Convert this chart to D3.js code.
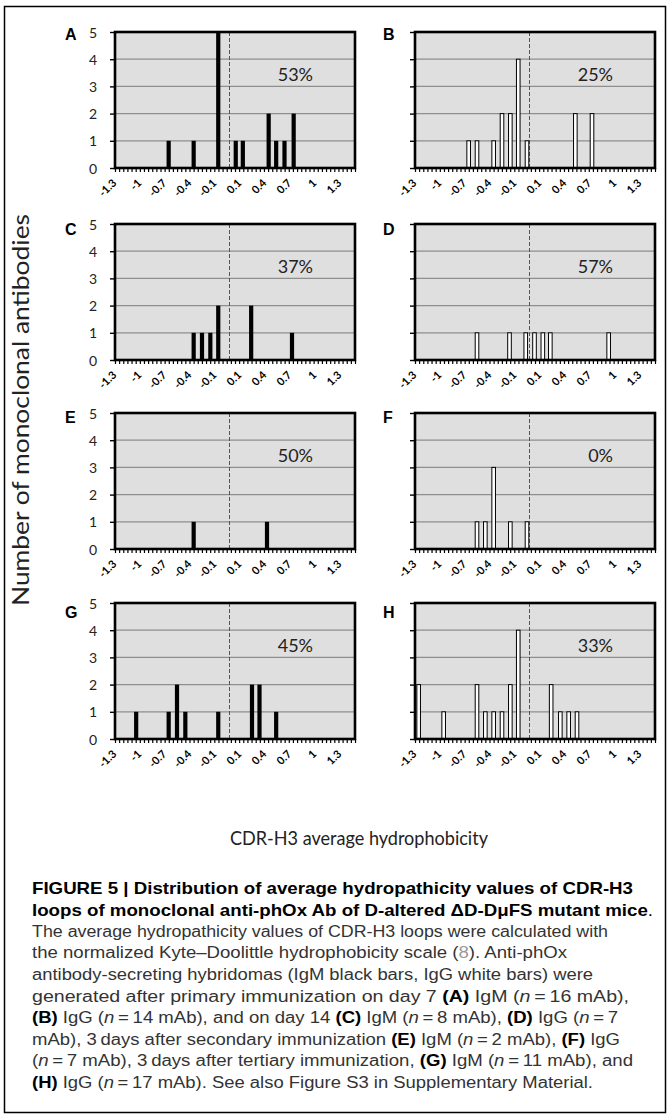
<!doctype html>
<html lang="en">
<head>
  <meta charset="utf-8">
  <script src="https://cdnjs.cloudflare.com/ajax/libs/d3/7.8.5/d3.min.js"></script>
  <style type="text/css">
    body {
      padding: 0;
      margin: 0;
      background: #fff;
    }
    svg text {
      font-family: Lato, 'Open Sans', sans-serif;
    }
  </style>
</head>
<body>
<svg id="canvas" width="671" height="1118"></svg>
<script>

// bars per panel: [hydrophobicity, number of mAb]
var panelA = [[-0.68, 1], [-0.38, 1], [-0.09, 5], [0.05, 1], [0.11, 1], [0.42, 2], [0.51, 1], [0.61, 1], [0.72, 2]];
var panelB = [[-0.68, 1], [-0.58, 1], [-0.38, 1], [-0.28, 2], [-0.18, 2], [-0.09, 4], [-0.02, 1], [0.50, 2], [0.70, 2]];
var panelC = [[-0.38, 1], [-0.28, 1], [-0.18, 1], [-0.09, 2], [0.21, 2], [0.70, 1]];
var panelD = [[-0.58, 1], [-0.19, 1], [-0.03, 1], [0.04, 1], [0.11, 1], [0.20, 1], [0.90, 1]];
var panelE = [[-0.38, 1], [0.40, 1]];
var panelF = [[-0.58, 1], [-0.48, 1], [-0.38, 3], [-0.18, 1], [-0.02, 1]];
var panelG = [[-1.07, 1], [-0.68, 1], [-0.58, 2], [-0.48, 1], [-0.09, 1], [0.22, 2], [0.31, 2], [0.51, 1]];
var panelH = [[-1.28, 2], [-0.98, 1], [-0.58, 2], [-0.48, 1], [-0.38, 1], [-0.28, 1], [-0.18, 2], [-0.09, 4], [0.21, 2], [0.32, 1], [0.42, 1], [0.52, 1]];

var panelLetters = ['A', 'B', 'C', 'D', 'E', 'F', 'G', 'H'];
var panelPercent = ['53%', '25%', '37%', '57%', '50%', '0%', '45%', '33%'];
var panelIsotype = ['IgM', 'IgG', 'IgM', 'IgG', 'IgM', 'IgG', 'IgM', 'IgG'];
var panelBars = [panelA, panelB, panelC, panelD, panelE, panelF, panelG, panelH];

var xTickLabels = [-1.3, -1, -0.7, -0.4, -0.1, 0.1, 0.4, 0.7, 1, 1.3];
var yTicks = [0, 1, 2, 3, 4, 5];
var minorTickCount = 58;

var captionLines = [
  [['b', 'FIGURE 5 | Distribution of average hydropathicity values of CDR-H3']],
  [['b', 'loops of monoclonal anti-phOx Ab of D-altered \u0394D-D\u03bcFS mutant mice'], ['', '.']],
  [['', 'The average hydropathicity values of CDR-H3 loops were calculated with']],
  [['', 'the normalized Kyte\u2013Doolittle hydrophobicity scale ('], ['g', '8'], ['', '). Anti-phOx']],
  [['', 'antibody-secreting hybridomas (IgM black bars, IgG white bars) were']],
  [['', 'generated after primary immunization on day 7 '], ['b', '(A)'], ['', ' IgM ('], ['i', 'n'], ['', '\u2009=\u200916 mAb),']],
  [['b', '(B)'], ['', ' IgG ('], ['i', 'n'], ['', '\u2009=\u200914 mAb), and on day 14 '], ['b', '(C)'], ['', ' IgM ('], ['i', 'n'], ['', '\u2009=\u20098 mAb), '], ['b', '(D)'], ['', ' IgG ('], ['i', 'n'], ['', '\u2009=\u20097']],
  [['', 'mAb), 3\u2009days after secondary immunization '], ['b', '(E)'], ['', ' IgM ('], ['i', 'n'], ['', '\u2009=\u20092 mAb), '], ['b', '(F)'], ['', ' IgG']],
  [['', '('], ['i', 'n'], ['', '\u2009=\u20097 mAb), 3\u2009days after tertiary immunization, '], ['b', '(G)'], ['', ' IgM ('], ['i', 'n'], ['', '\u2009=\u200911 mAb), and']],
  [['b', '(H)'], ['', ' IgG ('], ['i', 'n'], ['', '\u2009=\u200917 mAb). See also Figure S3 in Supplementary Material.']]
];
var captionWidths = [601, 621, 576, 535, 561, 597, 586, 588, 601, 561];
var captionBaselines = [894, 916, 937, 958, 980, 1002, 1023, 1045, 1066, 1088];

var svg = d3.select('#canvas');

var colLeft = [115, 415];
var rowTop = [32, 224, 413, 603];
var letterDy = [8, 11, 10, 15];
var plotW = 240;
var plotH = 136;

// figure frame
svg.append('rect')
  .attr('x', 4.5).attr('y', 6.5)
  .attr('width', 661).attr('height', 1106)
  .attr('fill', 'none')
  .attr('stroke', '#000')
  .attr('stroke-width', 1.5);

panelBars.forEach(function(bars, i) {
  var col = i % 2;
  var row = Math.floor(i / 2);
  var left = colLeft[col];
  var top = rowTop[row];

  var g = svg.append('g').attr('transform', 'translate(' + left + ',' + top + ')');

  // category axis of the original chart: labels evenly spaced
  var x = d3.scaleLinear()
    .domain([-1.3, -0.1, 0.1, 1.3])
    .range([2, 102, 127, 227]);
  var xIdx = d3.scaleLinear().domain([0, minorTickCount]).range([0, plotW]);
  var y = d3.scaleLinear().domain([0, 5]).range([plotH, 0]);

  g.append('rect')
    .attr('width', plotW).attr('height', plotH)
    .attr('fill', '#dfdfdf');

  g.selectAll('.grid').data(yTicks.slice(1, -1)).enter().append('line')
    .attr('x1', 0).attr('x2', plotW)
    .attr('y1', function(d) { return y(d); })
    .attr('y2', function(d) { return y(d); })
    .attr('stroke', '#8e8e8e')
    .attr('stroke-width', 1.2);

  g.append('line')
    .attr('x1', x(0)).attr('x2', x(0))
    .attr('y1', 0).attr('y2', plotH)
    .attr('stroke', '#555')
    .attr('stroke-width', 1)
    .attr('stroke-dasharray', '4,2');

  var igm = panelIsotype[i] === 'IgM';
  var bw = igm ? 4.2 : 3.6;
  g.selectAll('.bar').data(bars).enter().append('rect')
    .attr('x', function(d) { return x(d[0]) - bw / 2; })
    .attr('y', function(d) { return y(d[1]); })
    .attr('width', bw)
    .attr('height', function(d) { return y(0) - y(d[1]); })
    .attr('fill', igm ? '#000' : '#fff')
    .attr('stroke', igm ? 'none' : '#000')
    .attr('stroke-width', 1);

  g.append('rect')
    .attr('width', plotW).attr('height', plotH)
    .attr('fill', 'none')
    .attr('stroke', '#000')
    .attr('stroke-width', 2.6);

  // y axis
  var yAxis = g.append('g')
    .call(d3.axisLeft(y).tickValues(yTicks).tickSize(5)
      .tickFormat(col === 0 ? function(d) { return d; } : function() { return ''; }));
  yAxis.select('.domain').remove();
  yAxis.selectAll('line').attr('stroke', '#000').attr('stroke-width', 1.4);
  yAxis.selectAll('text')
    .attr('x', -18)
    .attr('dy', '0.36em')
    .style('font-size', '14px')
    .style('fill', '#222');

  // minor ticks
  var minor = g.append('g')
    .attr('transform', 'translate(0,' + plotH + ')')
    .call(d3.axisBottom(xIdx).tickValues(d3.range(0, minorTickCount + 1)).tickSize(4).tickFormat(''));
  minor.select('.domain').remove();
  minor.selectAll('line').attr('stroke', '#000').attr('stroke-width', 1.2);

  // rotated category labels
  var xAxis = g.append('g')
    .attr('transform', 'translate(0,' + plotH + ')')
    .call(d3.axisBottom(x).tickValues(xTickLabels).tickSize(0).tickFormat(function(d) { return String(d); }));
  xAxis.select('.domain').remove();
  xAxis.selectAll('text')
    .attr('x', 0).attr('y', 0).attr('dy', '0.35em')
    .attr('text-anchor', 'end')
    .attr('transform', 'translate(-3,13) rotate(-45)')
    .style('font-size', '11px')
    .style('font-weight', 'bold')
    .style('fill', '#000');

  g.append('text')
    .attr('x', 198).attr('y', 49)
    .attr('text-anchor', 'end')
    .style('font-size', '18px')
    .style('fill', '#222')
    .text(panelPercent[i]);

  g.append('text')
    .attr('x', col === 0 ? -50 : -32)
    .attr('y', letterDy[row])
    .style('font-family', "'Liberation Sans', Arial, sans-serif")
    .style('font-size', '16px')
    .style('font-weight', 'bold')
    .text(panelLetters[i]);
});

svg.append('text')
  .attr('transform', 'translate(29,410) rotate(-90)')
  .attr('text-anchor', 'middle')
  .attr('textLength', 392)
  .attr('lengthAdjust', 'spacingAndGlyphs')
  .style('font-size', '24px')
  .style('fill', '#222')
  .text('Number of monoclonal antibodies');

svg.append('text')
  .attr('x', 359).attr('y', 845)
  .attr('text-anchor', 'middle')
  .attr('textLength', 258)
  .attr('lengthAdjust', 'spacingAndGlyphs')
  .style('font-size', '20px')
  .style('fill', '#222')
  .text('CDR-H3 average hydrophobicity');

// caption
captionLines.forEach(function(spans, i) {
  var t = svg.append('text')
    .attr('x', 32).attr('y', captionBaselines[i])
    .attr('textLength', captionWidths[i])
    .attr('lengthAdjust', 'spacingAndGlyphs')
    .style('font-family', "'Liberation Sans', Arial, sans-serif")
    .style('font-size', i < 2 ? '17px' : '16px');
  spans.forEach(function(s) {
    var ts = t.append('tspan').text(s[1]);
    if (s[0] === 'b') ts.style('font-weight', 'bold').style('fill', '#000');
    else if (s[0] === 'i') ts.style('font-style', 'italic').style('fill', '#333');
    else if (s[0] === 'g') ts.style('fill', '#999');
    else ts.style('fill', i < 2 ? '#000' : '#333');
  });
});
</script>
</body>
</html>
